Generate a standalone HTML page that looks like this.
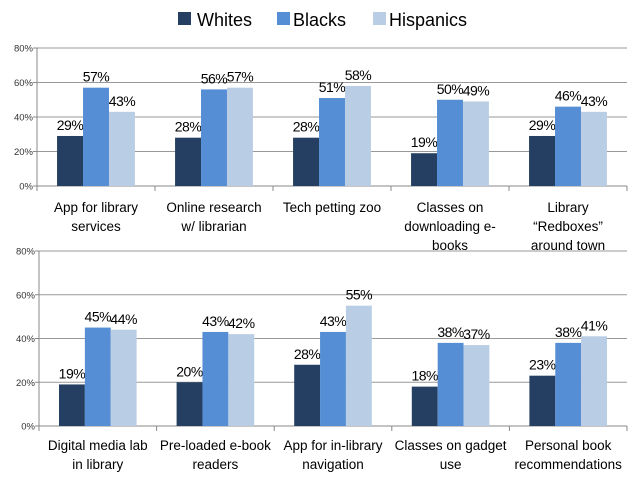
<!DOCTYPE html>
<html><head><meta charset="utf-8"><style>
body{margin:0;background:#fff;width:638px;height:479px;overflow:hidden;font-family:"Liberation Sans",sans-serif}
svg text{font-family:"Liberation Sans",sans-serif}
</style></head><body>
<svg id="c" width="638" height="479">
<g>
<g><rect x="178" y="12" width="13" height="13" fill="#243f61"/><text x="197" y="26" font-size="18" fill="#000">Whites</text></g>
<g><rect x="277" y="12" width="13" height="13" fill="#558ed5"/><text x="293" y="26" font-size="18" fill="#000">Blacks</text></g>
<g><rect x="373" y="12" width="13" height="13" fill="#b9cde5"/><text x="389" y="26" font-size="18" fill="#000">Hispanics</text></g>
</g>
</svg>
<script>
const catsTop=["App for library|services","Online research|w/ librarian","Tech petting zoo","Classes on|downloading e-|books","Library|“Redboxes”|around town"];
const whitesTop=[29,28,28,19,29];
const blacksTop=[57,56,51,50,46];
const hispTop=[43,57,58,49,43];
const catsBot=["Digital media lab|in library","Pre-loaded e-book|readers","App for in-library|navigation","Classes on gadget|use","Personal book|recommendations"];
const whitesBot=[19,20,28,18,23];
const blacksBot=[45,43,43,38,38];
const hispBot=[44,42,55,37,41];
const ticks=["0%","20%","40%","60%","80%"];
const colors=["#243f61","#558ed5","#b9cde5"];
const names=["whites","blacks","hispanics"];
const svg=document.getElementById('c');
const NS="http://www.w3.org/2000/svg";
function mk(t,a,p){const e=document.createElementNS(NS,t);for(const k in a)e.setAttribute(k,a[k]);p.appendChild(e);return e;}
function panel(id,cats,series,L,R,T,B,labY){
  const g=mk('g',{},svg);
  
  
  const y=v=>B-(v/80)*(B-T);
  const cw=(R-L)/cats.length;
  ticks.forEach((t,i)=>{const yy=y(i*20);
    const ln=mk('line',{x1:L,x2:R,y1:yy,y2:yy,stroke:i==0?'#888':'#999','stroke-width':1},g);
    
    
    const tx=mk('text',{x:L-4,y:yy+3.5,'font-size':9.5,'text-anchor':'end',fill:'#333'},g);tx.textContent=t;
    
    
    mk('line',{x1:L-4,x2:L,y1:yy,y2:yy,stroke:'#888'},g);
  });
  mk('line',{x1:L,x2:L,y1:T,y2:B,stroke:'#888'},g);
  for(let i=0;i<=cats.length;i++)mk('line',{x1:L+i*cw,x2:L+i*cw,y1:B,y2:B+5,stroke:'#888'},g);
  const bw=cw*0.22;
  cats.forEach((c,i)=>{
    const x0=L+i*cw+(cw-3*bw)/2;
    series.forEach((s,j)=>{
      const v=s[i];const r=mk('rect',{x:x0+j*bw,y:y(v),width:bw,height:B-y(v),fill:colors[j]},g);
      
      
      const t=mk('text',{x:x0+j*bw+bw/2,y:y(v)-6,'font-size':14,'letter-spacing':-0.5,'text-anchor':'middle',fill:'#000'},g);t.textContent=v+'%';
      
      
    });
    c.split('|').forEach((ln,k)=>{
      const t=mk('text',{x:L+i*cw+cw/2,y:labY+k*19,'font-size':13.5,'text-anchor':'middle',fill:'#000'},g);t.textContent=ln;
      
      
    });
  });
}
panel('top-chart',catsTop,[whitesTop,blacksTop,hispTop],37,627,48,186,212);
panel('bottom-chart',catsBot,[whitesBot,blacksBot,hispBot],39,627,251,426,450);
</script>
</body></html>
